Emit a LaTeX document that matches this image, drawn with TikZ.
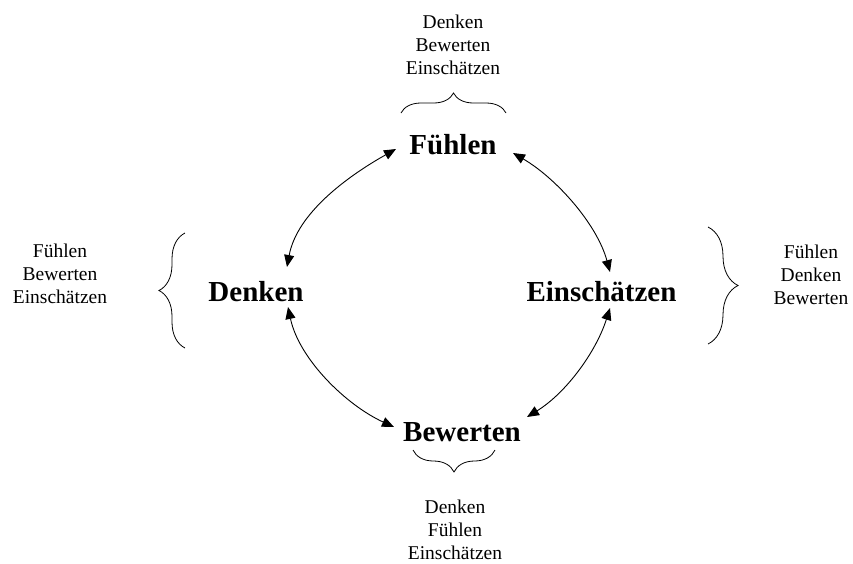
\documentclass[tikz,border=0pt]{standalone}
\usepackage{fontspec}
\setmainfont{Liberation Serif}
\usetikzlibrary{arrows.meta,decorations.pathreplacing}
\begin{document}
\begin{tikzpicture}[x=1pt,y=-1pt,
  main/.style={font=\fontsize{29}{33}\selectfont\bfseries, inner sep=0pt, anchor=base},
  side/.style={font=\fontsize{19.5}{23}\selectfont, align=center, inner sep=0pt, anchor=north},
  conn/.style={line width=0.9pt, {Triangle[length=12pt,width=10pt]}-{Triangle[length=12pt,width=10pt]}},
  brc/.style={line width=0.8pt, decorate, decoration={brace, amplitude=#1}}
]
\useasboundingbox[fill=white] (0,0) rectangle (853,563);
% main nodes
\node[main] (fuehlen) at (453,154) {Fühlen};
\node[main] (denken) at (256,301) {Denken};
\node[main] (einsch) at (601.5,301) {Einschätzen};
\node[main] (bewerten) at (462,441) {Bewerten};
% side texts
\node[side] (ttop) at (453,14.7) {Denken\\Bewerten\\Einschätzen};
\node[side] (tleft) at (60,243.7) {Fühlen\\Bewerten\\Einschätzen};
\node[side] (tright) at (811,244.7) {Fühlen\\Denken\\Bewerten};
\node[side] (tbot) at (455,499.7) {Denken\\Fühlen\\Einschätzen};
% braces
\draw[brc=20pt] ([shift={(-52,-41)}]fuehlen.base) -- ([shift={(53,-41)}]fuehlen.base);
\draw[brc=26pt] ([shift={(-71,47)}]denken.base) -- ([shift={(-71,-68)}]denken.base);
\draw[brc=30pt] ([shift={(106.5,-74)}]einsch.base) -- ([shift={(106.5,43)}]einsch.base);
\draw[brc=22pt] ([shift={(33,9)}]bewerten.base) -- ([shift={(-49,9)}]bewerten.base);
% connectors
\draw[conn] ([shift={(31,-34)}]denken.base) .. controls +(10,-54) and +(-48,27) .. ([shift={(-57,-5)}]fuehlen.base);
\draw[conn] ([shift={(60,-1)}]fuehlen.base) .. controls +(43,25) and +(-13,-48) .. ([shift={(8.5,-29)}]einsch.base);
\draw[conn] ([shift={(32,6)}]denken.base) .. controls +(11,52) and +(-48,-22) .. ([shift={(-68,-14)}]bewerten.base);
\draw[conn] ([shift={(8.5,7)}]einsch.base) .. controls +(-14,44) and +(39,-24) .. ([shift={(65,-24)}]bewerten.base);
\end{tikzpicture}
\end{document}
